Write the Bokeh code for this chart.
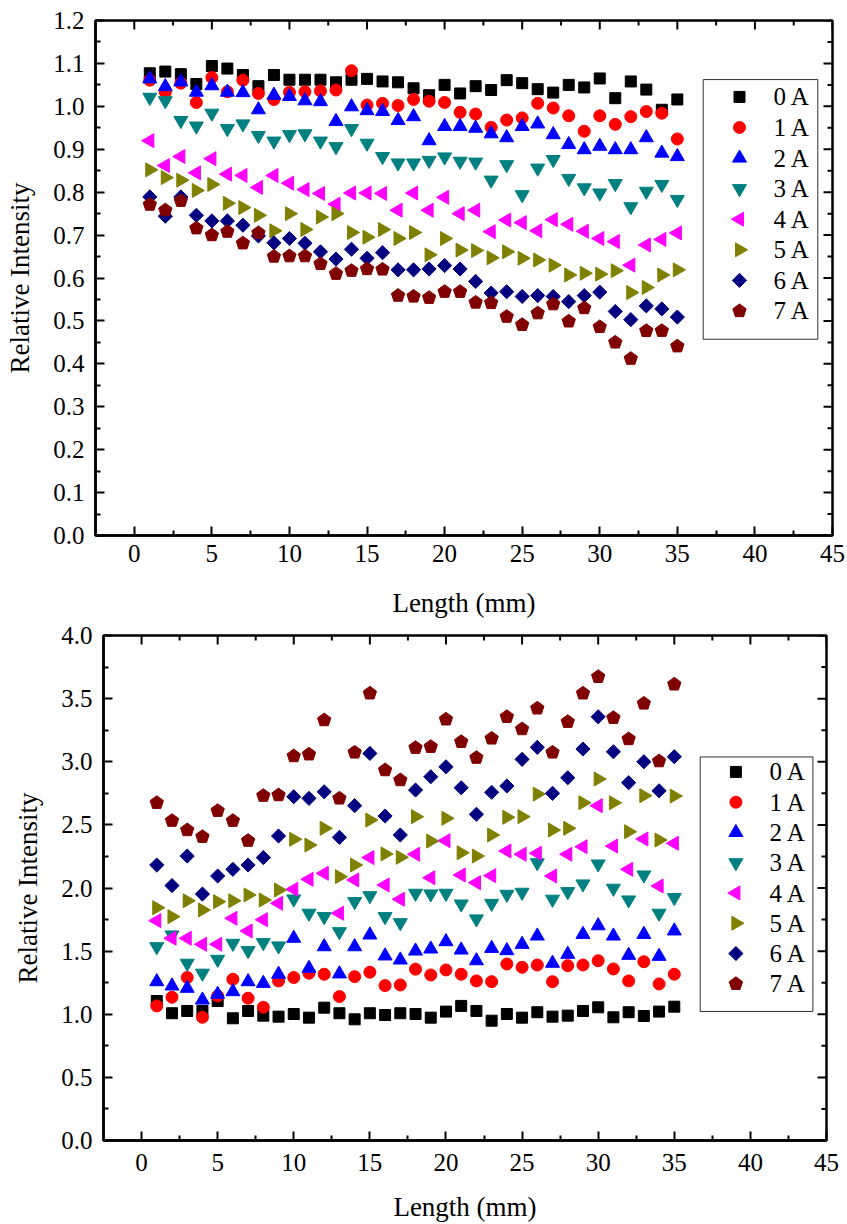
import numpy as np
from bokeh.plotting import figure
from bokeh.models import (Range1d, FixedTicker, PrintfTickFormatter, ColumnDataSource)
from bokeh.layouts import column
from bokeh.embed import file_html
from bokeh.resources import INLINE
from bokeh.core.properties import value

# ---------------- data ----------------
length_mm = [1, 2, 3, 4, 5, 6, 7, 8, 9, 10, 11, 12, 13, 14, 15, 16, 17, 18,
             19, 20, 21, 22, 23, 24, 25, 26, 27, 28, 29, 30, 31, 32, 33, 34, 35]
labels = ["0 A", "1 A", "2 A", "3 A", "4 A", "5 A", "6 A", "7 A"]

top_0A = [1.077, 1.081, 1.075, 1.052, 1.094, 1.088, 1.073, 1.047, 1.073, 1.062, 1.062, 1.062, 1.056, 1.062, 1.064, 1.058, 1.056, 1.042, 1.026, 1.050, 1.030, 1.047, 1.038, 1.061, 1.054, 1.040, 1.032, 1.050, 1.044, 1.065, 1.019, 1.058, 1.039, 0.992, 1.016]
top_1A = [1.061, 1.033, 1.054, 1.009, 1.067, 1.034, 1.061, 1.030, 1.016, 1.033, 1.034, 1.036, 1.038, 1.083, 1.003, 1.007, 1.002, 1.016, 1.012, 1.009, 0.986, 0.982, 0.951, 0.968, 0.973, 1.007, 0.996, 0.978, 0.942, 0.978, 0.958, 0.976, 0.988, 0.984, 0.924]
top_2A = [1.064, 1.046, 1.057, 1.033, 1.048, 1.033, 1.032, 0.992, 1.026, 1.023, 1.013, 1.011, 0.965, 0.999, 0.990, 0.988, 0.967, 0.976, 0.920, 0.953, 0.953, 0.949, 0.936, 0.927, 0.953, 0.959, 0.934, 0.911, 0.899, 0.907, 0.899, 0.899, 0.927, 0.891, 0.883]
top_3A = [1.021, 1.013, 0.967, 0.954, 0.984, 0.948, 0.959, 0.932, 0.919, 0.934, 0.936, 0.919, 0.906, 0.948, 0.914, 0.883, 0.868, 0.868, 0.874, 0.882, 0.872, 0.870, 0.828, 0.864, 0.794, 0.856, 0.876, 0.832, 0.810, 0.798, 0.820, 0.766, 0.802, 0.818, 0.783]
top_4A = [0.920, 0.862, 0.883, 0.845, 0.878, 0.842, 0.839, 0.811, 0.839, 0.821, 0.806, 0.797, 0.772, 0.798, 0.798, 0.797, 0.758, 0.798, 0.758, 0.788, 0.750, 0.758, 0.708, 0.735, 0.729, 0.710, 0.736, 0.725, 0.709, 0.692, 0.685, 0.630, 0.677, 0.690, 0.705]
top_5A = [0.852, 0.834, 0.828, 0.804, 0.818, 0.774, 0.764, 0.746, 0.710, 0.750, 0.713, 0.742, 0.750, 0.706, 0.695, 0.713, 0.692, 0.706, 0.654, 0.692, 0.665, 0.664, 0.647, 0.661, 0.646, 0.642, 0.630, 0.607, 0.611, 0.609, 0.617, 0.566, 0.578, 0.607, 0.619]
top_6A = [0.789, 0.744, 0.789, 0.746, 0.733, 0.733, 0.723, 0.698, 0.682, 0.692, 0.681, 0.661, 0.644, 0.667, 0.646, 0.659, 0.619, 0.619, 0.621, 0.629, 0.621, 0.592, 0.565, 0.568, 0.557, 0.559, 0.557, 0.545, 0.559, 0.567, 0.522, 0.503, 0.535, 0.528, 0.509]
top_7A = [0.771, 0.758, 0.780, 0.716, 0.700, 0.708, 0.681, 0.705, 0.650, 0.651, 0.651, 0.633, 0.610, 0.617, 0.621, 0.620, 0.559, 0.557, 0.554, 0.568, 0.568, 0.543, 0.542, 0.510, 0.491, 0.518, 0.539, 0.499, 0.530, 0.486, 0.450, 0.412, 0.477, 0.477, 0.441]

bot_0A = [1.105, 1.008, 1.026, 1.026, 1.105, 0.968, 1.026, 0.989, 0.981, 1.002, 0.973, 1.052, 1.008, 0.960, 1.008, 0.994, 1.008, 1.002, 0.973, 1.021, 1.066, 1.026, 0.949, 1.002, 0.973, 1.016, 0.981, 0.989, 1.026, 1.055, 0.976, 1.016, 0.986, 1.021, 1.060]
bot_1A = [1.066, 1.135, 1.291, 0.976, 1.145, 1.277, 1.127, 1.055, 1.264, 1.291, 1.325, 1.317, 1.140, 1.298, 1.333, 1.227, 1.232, 1.357, 1.311, 1.351, 1.317, 1.264, 1.258, 1.398, 1.372, 1.390, 1.258, 1.385, 1.390, 1.424, 1.359, 1.264, 1.416, 1.240, 1.317]
bot_2A = [1.258, 1.224, 1.206, 1.113, 1.158, 1.179, 1.258, 1.245, 1.317, 1.602, 1.364, 1.535, 1.320, 1.535, 1.628, 1.462, 1.430, 1.501, 1.517, 1.575, 1.509, 1.424, 1.522, 1.504, 1.554, 1.620, 1.404, 1.475, 1.633, 1.701, 1.620, 1.467, 1.633, 1.459, 1.660]
bot_3A = [1.535, 1.628, 1.404, 1.325, 1.435, 1.562, 1.504, 1.567, 1.541, 1.913, 1.800, 1.773, 1.654, 1.892, 1.939, 1.773, 1.725, 1.958, 1.953, 1.958, 1.873, 1.755, 1.878, 1.950, 1.966, 2.200, 1.911, 1.971, 2.032, 2.190, 1.998, 1.905, 2.103, 1.800, 1.924]
bot_4A = [1.741, 1.602, 1.602, 1.554, 1.554, 1.760, 1.660, 1.749, 1.879, 1.990, 2.069, 2.116, 1.800, 2.064, 2.241, 2.024, 1.911, 2.267, 2.081, 2.375, 2.103, 2.042, 2.098, 2.293, 2.267, 2.275, 2.095, 2.267, 2.327, 2.652, 2.332, 2.148, 2.388, 2.016, 2.354]
bot_5A = [1.844, 1.773, 1.899, 1.826, 1.892, 1.899, 1.945, 1.905, 1.984, 2.386, 2.340, 2.473, 2.090, 2.182, 2.538, 2.270, 2.243, 2.565, 2.372, 2.552, 2.279, 2.253, 2.420, 2.560, 2.565, 2.744, 2.459, 2.473, 2.675, 2.863, 2.675, 2.446, 2.731, 2.380, 2.728]
bot_6A = [2.182, 2.019, 2.253, 1.952, 2.095, 2.148, 2.182, 2.241, 2.412, 2.723, 2.710, 2.762, 2.401, 2.652, 3.066, 2.570, 2.420, 2.776, 2.881, 2.960, 2.794, 2.584, 2.758, 2.808, 3.019, 3.114, 2.750, 2.873, 3.101, 3.356, 3.079, 2.834, 3.000, 2.770, 3.040]
bot_7A = [2.675, 2.533, 2.459, 2.406, 2.612, 2.533, 2.375, 2.731, 2.736, 3.045, 3.059, 3.330, 2.710, 3.074, 3.542, 2.934, 2.855, 3.111, 3.119, 3.336, 3.158, 3.032, 3.185, 3.356, 3.259, 3.423, 3.074, 3.317, 3.542, 3.673, 3.348, 3.180, 3.462, 3.005, 3.613]

x_major = [0, 5, 10, 15, 20, 25, 30, 35, 40, 45]
x_minor = [2.5, 7.5, 12.5, 17.5, 22.5, 27.5, 32.5, 37.5, 42.5]
top_y_major = [0.0, 0.1, 0.2, 0.3, 0.4, 0.5, 0.6, 0.7, 0.8, 0.9, 1.0, 1.1, 1.2]
top_y_minor = [0.05, 0.15, 0.25, 0.35, 0.45, 0.55, 0.65, 0.75, 0.85, 0.95, 1.05, 1.15]
bot_y_major = [0.0, 0.5, 1.0, 1.5, 2.0, 2.5, 3.0, 3.5, 4.0]
bot_y_minor = [0.25, 0.75, 1.25, 1.75, 2.25, 2.75, 3.25, 3.75]

colors = ["#000000", "#FF0000", "#0000FF", "#008080", "#FF00FF", "#808000", "#000080", "#800000"]

FONT = "Liberation Serif"
X_MIN, X_MAX = -2.5, 45
MAJ_LEN, MIN_LEN = 9, 5

# marker specs: (marker, size, angle)
SPECS = [("square", 11, 0.0), ("circle", 12, 0.0), ("triangle", 14, 0.0),
         ("inverted_triangle", 14, 0.0), ("triangle", 14, np.pi / 2),
         ("triangle", 14, -np.pi / 2), ("square", 10, np.pi / 4), None]


def draw_marker(p, i, src, **kw):
    c = colors[i]
    if SPECS[i] is None:
        return p.ngon("x", "y", source=src, radius=7, radius_units="screen", n=5,
                      fill_color=c, line_color=c, **kw)
    m, s, a = SPECS[i]
    return p.scatter("x", "y", source=src, marker=m, size=s, angle=a,
                     fill_color=c, line_color=c, **kw)


def style_axis(ax, tick_standoff, label_standoff):
    ax.axis_line_width = 2.5
    ax.axis_line_color = "black"
    ax.major_tick_line_width = 2
    ax.minor_tick_line_width = 2
    ax.major_tick_line_color = "black"
    ax.minor_tick_line_color = "black"
    ax.major_tick_in = MAJ_LEN
    ax.major_tick_out = 0
    ax.minor_tick_in = MIN_LEN
    ax.minor_tick_out = 0
    ax.major_label_text_font = FONT
    ax.major_label_text_font_size = "25px"
    ax.major_label_text_color = "black"
    ax.major_label_standoff = tick_standoff
    ax.axis_label_text_font = FONT
    ax.axis_label_text_font_size = "27px"
    ax.axis_label_text_font_style = "normal"
    ax.axis_label_text_color = "black"
    ax.axis_label_standoff = label_standoff


def make_panel(series, width, height, ml, mr, mt, mb, y_end, y_major, y_minor,
               x_std, x_lab_std, y_std, y_lab_std, leg):
    fw = width - ml - mr
    fh = height - mt - mb
    p = figure(width=width, height=height, output_backend="svg", toolbar_location=None,
               x_range=Range1d(X_MIN, X_MAX), y_range=Range1d(0, y_end),
               min_border_left=ml, min_border_right=mr, min_border_top=mt, min_border_bottom=mb,
               x_axis_label="Length (mm)", y_axis_label="Relative Intensity")
    try:
        p.frame_align = False
    except Exception:
        pass
    p.extra_x_ranges = {"px": Range1d(0, fw)}
    p.extra_y_ranges = {"py": Range1d(0, fh)}
    p.outline_line_color = "black"
    p.outline_line_width = 2.5
    p.grid.visible = False
    p.background_fill_color = "white"
    p.border_fill_color = "white"

    p.xaxis.ticker = FixedTicker(ticks=x_major, minor_ticks=x_minor)
    p.yaxis.ticker = FixedTicker(ticks=y_major, minor_ticks=y_minor)
    p.yaxis.formatter = PrintfTickFormatter(format="%.1f")
    style_axis(p.xaxis[0], x_std, x_lab_std)
    style_axis(p.yaxis[0], y_std, y_lab_std)

    # mirrored inward ticks on the top and right edges
    ypx = y_end / fh
    xpx = (X_MAX - X_MIN) / fw
    p.segment(x0=x_major, y0=[y_end] * len(x_major), x1=x_major,
              y1=[y_end - MAJ_LEN * ypx] * len(x_major), line_color="black", line_width=2)
    p.segment(x0=x_minor, y0=[y_end] * len(x_minor), x1=x_minor,
              y1=[y_end - MIN_LEN * ypx] * len(x_minor), line_color="black", line_width=2)
    p.segment(x0=[X_MAX] * len(y_major), y0=y_major, x1=[X_MAX - MAJ_LEN * xpx] * len(y_major),
              y1=y_major, line_color="black", line_width=2)
    p.segment(x0=[X_MAX] * len(y_minor), y0=y_minor, x1=[X_MAX - MIN_LEN * xpx] * len(y_minor),
              y1=y_minor, line_color="black", line_width=2)

    for i, ys in enumerate(series):
        draw_marker(p, i, ColumnDataSource(dict(x=length_mm, y=ys)))

    # legend box (frame pixel coordinates)
    L, R, B, T, row0, step, gx, tx = leg
    p.quad(left=[L], right=[R], bottom=[B], top=[T], x_range_name="px", y_range_name="py",
           fill_color="white", line_color="#333333", line_width=1)
    rows = [row0 - k * step for k in range(len(labels))]
    for i in range(len(labels)):
        draw_marker(p, i, ColumnDataSource(dict(x=[gx], y=[rows[i]])),
                    x_range_name="px", y_range_name="py")
    p.text(x=[tx] * len(labels), y=rows, text=labels, x_range_name="px", y_range_name="py",
           text_font=value(FONT), text_font_size=value("25px"), text_color="black",
           text_align="left", text_baseline="middle")
    return p


top_series = [top_0A, top_1A, top_2A, top_3A, top_4A, top_5A, top_6A, top_7A]
bot_series = [bot_0A, bot_1A, bot_2A, bot_3A, bot_4A, bot_5A, bot_6A, bot_7A]

p1 = make_panel(top_series, 847, 620, 95, 15, 20, 83, 1.2, top_y_major, top_y_minor,
                9, 23, 11, 15,
                (607.7, 722.3, 197, 457.7, 440.3, 30.7, 644, 678))
p2 = make_panel(bot_series, 847, 604, 103, 21, 15, 83, 4.0, bot_y_major, bot_y_minor,
                13, 18, 11, 15,
                (596.7, 709.4, 129.3, 384.3, 369.3, 30.33, 632.4, 666))

layout = column(p1, p2, spacing=0)
open("out.html", "w").write(file_html(layout, INLINE))
